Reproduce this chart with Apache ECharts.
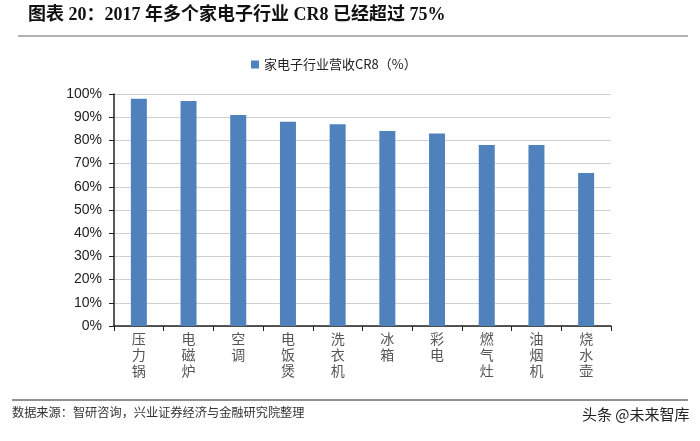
<!DOCTYPE html>
<html><head><meta charset="utf-8">
<script src="https://cdn.jsdelivr.net/npm/echarts@6/dist/echarts.min.js"></script>
<style>html,body{margin:0;padding:0;background:#fff}#c{width:700px;height:441px}</style>
</head><body><div id="c"></div>
<script>
const categories = ['压力锅','电磁炉','空调','电饭煲','洗衣机','冰箱','彩电','燃气灶','油烟机','烧水壶'];
const values = [98, 97, 91, 88, 87, 84, 83, 78, 78, 66];
const seriesName = '家电子行业营收CR8（%）';
const titleText = '图表 20：2017 年多个家电子行业 CR8 已经超过 75%';
const sourceText = '数据来源：智研咨询，兴业证券经济与金融研究院整理';
const watermark = '头条 @未来智库';

const chart = echarts.init(document.getElementById('c'));
chart.setOption({
  animation: false,
  backgroundColor: '#fff',
  grid: {left: 114, right: 89, top: 94, bottom: 115},
  legend: {
    data: [seriesName], top: 53, left: 246,
    itemWidth: 8, itemHeight: 8, icon: 'rect', itemGap: 4,
    textStyle: {fontFamily: 'Noto Sans CJK SC', fontSize: 13, color: '#222'}
  },
  xAxis: {
    type: 'category', data: categories,
    axisLine: {lineStyle: {color: '#222', width: 1.5}},
    axisTick: {show: true, length: 5, lineStyle: {color: '#222'}},
    axisLabel: {
      interval: 0, margin: 5, color: '#555', fontSize: 14, lineHeight: 16,
      fontFamily: 'Noto Sans CJK SC',
      formatter: v => v.split('').join('\n')
    }
  },
  yAxis: {
    type: 'value', min: 0, max: 100, interval: 10,
    axisLine: {show: true, lineStyle: {color: '#222', width: 1.5}},
    axisTick: {show: true, length: 5, lineStyle: {color: '#222'}},
    axisLabel: {formatter: '{value}%', color: '#222', fontSize: 14, margin: 12, fontFamily: 'Liberation Sans'},
    splitLine: {lineStyle: {color: '#d0d0d0', width: 1}}
  },
  series: [{
    name: seriesName, type: 'bar', data: values, barWidth: 16,
    itemStyle: {color: '#4F81BD'}
  }],
  graphic: [
    {type: 'text', left: 28, top: 6, style: {text: titleText, font: 'bold 18px "Liberation Serif", "Noto Sans CJK SC"', fill: '#111'}},
    {type: 'line', shape: {x1: 18, y1: 36, x2: 688, y2: 36}, style: {stroke: '#666', lineWidth: 1}},
    {type: 'line', shape: {x1: 12, y1: 400, x2: 688, y2: 400}, style: {stroke: '#222', lineWidth: 1}},
    {type: 'text', left: 12, top: 406, style: {text: sourceText, font: '12.2px "Noto Sans CJK SC"', fill: '#333'}},
    {type: 'text', left: 582, top: 407, style: {text: watermark, font: '15px "Noto Sans CJK SC"', fill: '#222'}}
  ]
});
</script></body></html>
